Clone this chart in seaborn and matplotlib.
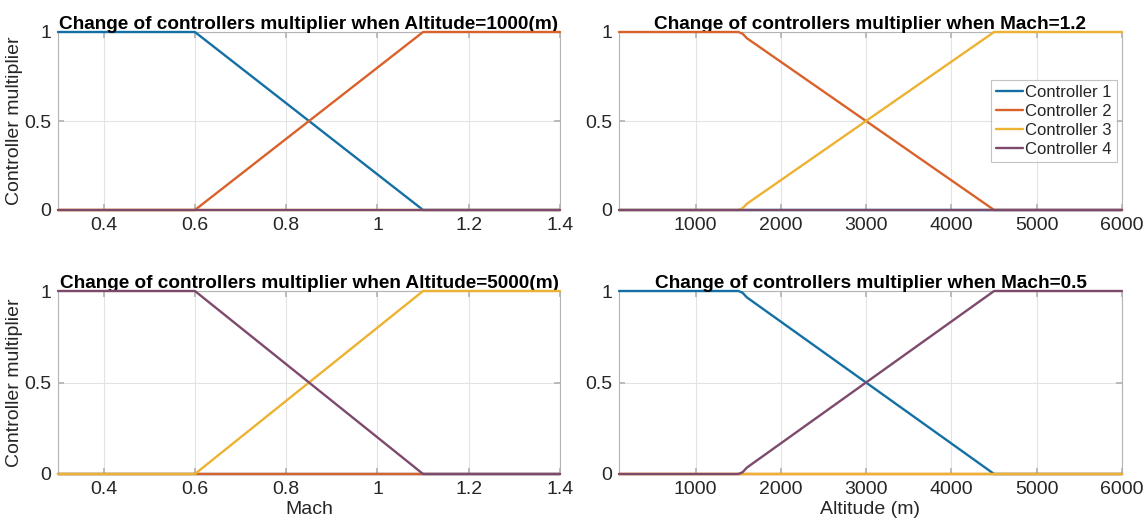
import numpy as np
import pandas as pd
import matplotlib
matplotlib.use("Agg")
import matplotlib.pyplot as plt
import seaborn as sns

# ---- data ----
controllers = ["Controller 1", "Controller 2", "Controller 3", "Controller 4"]
mach = [0.3, 0.6, 1.1, 1.4]
mach_down = [1, 1, 0, 0]
mach_up = [0, 0, 1, 1]
mach_zero = [0, 0, 0, 0]

altitude = [100, 1500, 1550, 1600, 4500, 6000]
alt_down = [1, 1, 0.99, 0.965, 0, 0]
alt_up = [0, 0, 0.01, 0.035, 1, 1]
alt_zero = [0, 0, 0, 0, 0, 0]

titles = ["Change of controllers multiplier when Altitude=1000(m)",
          "Change of controllers multiplier when Mach=1.2",
          "Change of controllers multiplier when Altitude=5000(m)",
          "Change of controllers multiplier when Mach=0.5"]

mach_ticks = [0.4, 0.6, 0.8, 1.0, 1.2, 1.4]
mach_ticklabels = ["0.4", "0.6", "0.8", "1", "1.2", "1.4"]
alt_ticks = [1000, 2000, 3000, 4000, 5000, 6000]
alt_ticklabels = ["1000", "2000", "3000", "4000", "5000", "6000"]
y_ticks = [0, 0.5, 1]
y_ticklabels = ["0", "0.5", "1"]

panels = [
    (mach, [mach_down, mach_up, mach_zero, mach_zero]),
    (altitude, [alt_zero, alt_down, alt_up, alt_zero]),
    (mach, [mach_zero, mach_zero, mach_up, mach_down]),
    (altitude, [alt_down, alt_zero, alt_zero, alt_up]),
]

palette = {"Controller 1": "#1470A4", "Controller 2": "#D9622B",
           "Controller 3": "#EDB232", "Controller 4": "#7D4A6C"}

sns.set_theme(style="white")
plt.rcParams["font.family"] = ["Liberation Sans", "DejaVu Sans"]

fig = plt.figure(figsize=(11.45, 5.24), dpi=100)
W, H = 1145, 524
boxes = [(58, 32, 560, 210), (619, 32, 1122, 210),
         (58, 291, 560, 474), (619, 291, 1122, 474)]
axes = []
for (x0, y0, x1, y1) in boxes:
    axes.append(fig.add_axes([x0 / W, 1 - y1 / H, (x1 - x0) / W, (y1 - y0) / H]))

for i, ax in enumerate(axes):
    xs, series = panels[i]
    rows = []
    for c, ys in zip(controllers, series):
        for x, y in zip(xs, ys):
            rows.append({"x": x, "y": y, "Controller": c})
    df = pd.DataFrame(rows)
    sns.lineplot(data=df, x="x", y="y", hue="Controller", hue_order=controllers,
                 palette=palette, linewidth=1.7, ax=ax, legend=(i == 1),
                 estimator=None, sort=False)
    for k, ln in enumerate(ax.lines):
        ln.set_clip_on(False)
        ln.set_zorder(3 + 0.01 * k)
    is_mach = (i % 2 == 0)
    if is_mach:
        ax.set_xlim(0.3, 1.4)
        ax.set_xticks(mach_ticks)
        ax.set_xticklabels(mach_ticklabels)
    else:
        ax.set_xlim(100, 6000)
        ax.set_xticks(alt_ticks)
        ax.set_xticklabels(alt_ticklabels)
    ax.set_ylim(0, 1)
    ax.set_yticks(y_ticks)
    ax.set_yticklabels(y_ticklabels)
    ax.grid(True, color="#e3e3e3", linewidth=0.8)
    ax.set_axisbelow(True)
    for s in ax.spines.values():
        s.set_color("#b4b4b4")
        s.set_linewidth(0.8)
    ax.tick_params(axis="both", direction="in", length=4, color="#b4b4b4",
                   labelsize=14, labelcolor="#262626", pad=5,
                   right=True, top=True, bottom=True, left=True)
    ax.set_title(titles[i], fontsize=13.7, fontweight="bold", color="#000000", pad=2)
    ax.set_xlabel("Mach" if i == 2 else ("Altitude (m)" if i == 3 else ""),
                  fontsize=14, color="#262626", labelpad=2)
    ax.set_ylabel("Controller multiplier" if i in (0, 2) else "",
                  fontsize=14, color="#262626", labelpad=1)
    if i == 1:
        leg = ax.legend(loc="center right", bbox_to_anchor=(0.99, 0.5),
                        fontsize=12, frameon=True, fancybox=False,
                        handlelength=1.6, handletextpad=0.15, borderpad=0.3,
                        labelspacing=0.25, borderaxespad=0)
        leg.set_zorder(10)
        leg.get_frame().set_edgecolor("#b4b4b4")
        leg.get_frame().set_linewidth(0.8)
        for t in leg.get_texts():
            t.set_color("#262626")

fig.savefig("out.png", dpi=100)
